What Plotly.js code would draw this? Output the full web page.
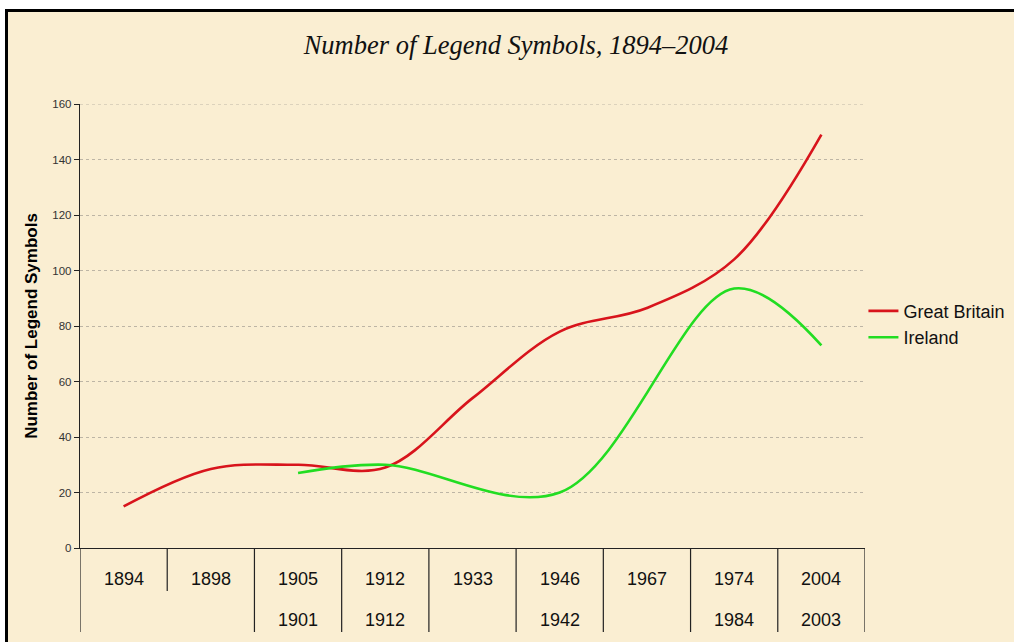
<!DOCTYPE html>
<html>
<head>
<meta charset="utf-8">
<script src="https://cdn.plot.ly/plotly-3.0.1.min.js"></script>
<style>
  html, body { margin: 0; padding: 0; background: #ffffff; width: 1014px; height: 642px; overflow: hidden; }
  #frame { position: absolute; left: 5px; top: 9px; width: 1009px; height: 633px;
           border-top: 3px solid #000; border-left: 3px solid #000; box-sizing: border-box;
           background: #faeed2; }
  #chart { position: absolute; left: 0; top: 0; width: 1050px; height: 642px; }
</style>
</head>
<body>
<div id="frame"></div>
<div id="chart"></div>
<script>
// ---- data ----
const categoriesGB      = ["1894", "1898", "1905", "1912", "1933", "1946", "1967", "1974", "2004"];
const categoriesIreland = ["", "", "1901", "1912", "", "1942", "", "1984", "2003"];
const greatBritain      = [15, 28.5, 30, 29, 54, 78, 86.5, 104, 149];
const ireland           = [null, null, 27, 30, null, 20, null, 93.5, 73];
const yTicks            = [0, 20, 40, 60, 80, 100, 120, 140, 160];

const idx = categoriesGB.map((_, i) => i);

const traces = [
  { x: idx, y: greatBritain, name: "Great Britain", type: "scatter", mode: "lines",
    line: { color: "#d8141c", width: 2.6, shape: "spline", smoothing: 1 }, connectgaps: true },
  { x: idx, y: ireland, name: "Ireland", type: "scatter", mode: "lines",
    line: { color: "#22dd22", width: 2.6, shape: "spline", smoothing: 1 }, connectgaps: true }
];

const annotations = [];
const shapes = [];
const labelFont = { family: "Arial, Liberation Sans, sans-serif", size: 18, color: "#111" };
categoriesGB.forEach((c, i) => {
  annotations.push({ x: i, y: 0, xref: "x", yref: "y", text: c, showarrow: false,
    yanchor: "middle", yshift: -31, font: labelFont });
  if (categoriesIreland[i]) {
    annotations.push({ x: i, y: 0, xref: "x", yref: "y", text: categoriesIreland[i], showarrow: false,
      yanchor: "middle", yshift: -72, font: labelFont });
  }
});
// separators between categories (plot height = 444px)
const plotH = 444;
for (let i = 0; i <= categoriesGB.length; i++) {
  // short separator inside the blank lower-level group (1894 | 1898)
  const short = (i === 1);
  const len = short ? 43 : 84;
  shapes.push({ type: "line", xref: "x", yref: "paper", x0: i - 0.5, x1: i - 0.5,
    y0: 0, y1: -len / plotH, line: { color: "#222", width: 1.2 } });
}
// top gridline (at the upper edge of the plot)
shapes.push({ type: "line", xref: "paper", yref: "y", x0: 0, x1: 1,
  y0: yTicks[yTicks.length - 1], y1: yTicks[yTicks.length - 1],
  line: { color: "#bdb5a5", width: 1, dash: "dot" } });

const layout = {
  width: 1050, height: 642,
  margin: { l: 80, r: 185, t: 104, b: 94 },
  paper_bgcolor: "rgba(0,0,0,0)",
  plot_bgcolor: "rgba(0,0,0,0)",
  title: { text: "<i>Number of Legend Symbols, 1894–2004</i>", x: 516 / 1050, xref: "container",
           y: 0.93, yref: "container", yanchor: "middle",
           font: { family: "Liberation Serif, DejaVu Serif, serif", size: 26.5, color: "#111" } },
  xaxis: { range: [-0.5, 8.5], showticklabels: false, showgrid: false, zeroline: false,
           showline: true, linecolor: "#222", linewidth: 1.2, ticks: "", fixedrange: true },
  yaxis: { range: [0, 160], tickvals: yTicks, ticktext: yTicks.map(String),
           showline: true, linecolor: "#222", linewidth: 1.2, ticks: "outside", ticklen: 5,
           tickcolor: "#222", zeroline: false,
           showgrid: true, gridcolor: "#bdb5a5", griddash: "dot", gridwidth: 1,
           tickfont: { family: "Arial, Liberation Sans, sans-serif", size: 11.5, color: "#333" },
           title: { text: "<b>Number of Legend Symbols</b>", standoff: 10,
                    font: { family: "Arial, Liberation Sans, sans-serif", size: 17, color: "#000" } } },
  legend: { x: 0.998, xanchor: "left", y: 0.575, yanchor: "top", bgcolor: "rgba(0,0,0,0)",
            font: { family: "Arial, Liberation Sans, sans-serif", size: 18, color: "#111" },
            itemwidth: 30, tracegroupgap: 0 },
  showlegend: true,
  annotations: annotations,
  shapes: shapes
};

Plotly.newPlot("chart", traces, layout, { displayModeBar: false, staticPlot: true });
</script>
</body>
</html>
